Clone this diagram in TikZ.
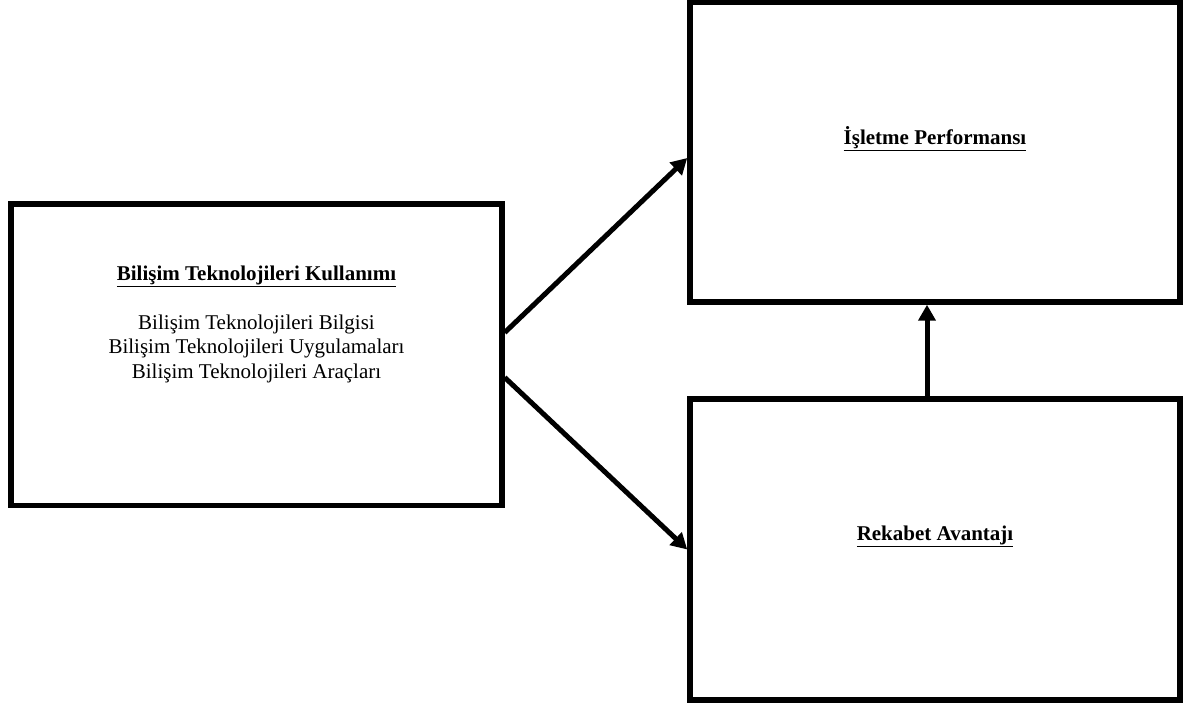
\documentclass[tikz,border=0pt]{standalone}
\usepackage{fontspec}
\setmainfont{Liberation Serif}
\usepackage{tikz}
\usetikzlibrary{positioning}
\usetikzlibrary{arrows.meta}
\tikzstyle{every kutu} = []
\tikzstyle{kutu} = [draw, line width=5.5pt, rectangle, minimum width=490pt, minimum height=300pt, every kutu]
\tikzstyle{baslik} = [font=\fontsize{21}{24}\selectfont\bfseries, inner sep=0pt]
\tikzstyle{link} = [-{Triangle[length=16pt, width=17pt]}, draw, line width=5pt]

\begin{document}
\begin{tikzpicture}[x=1pt,y=1pt]
                    \useasboundingbox (0,0) rectangle (1184,704);
                    \node[kutu, minimum width=491pt, minimum height=301.5pt] (bit) at (256.5,349) {};
                    \node[kutu] (perf) at (935,552) {};
                    \node[kutu, minimum height=301pt] (ra) at (935,154.5) {};
                    \node[inner sep=0pt, anchor=north, align=center, font=\fontsize{21}{24.5}\selectfont] (bitT) at (256.5,438)
                        {\textbf{\underline{Bilişim Teknolojileri Kullanımı}}\\[24pt]
                         Bilişim Teknolojileri Bilgisi\\
                         Bilişim Teknolojileri Uygulamaları\\
                         Bilişim Teknolojileri Araçları};
                    \node[baslik] (perfT) at ([yshift=13pt]perf.center) {\underline{İşletme Performansı}};
                    \node[baslik] (raT) at ([yshift=13pt]ra.center) {\underline{Rekabet Avantajı}};
                    \draw[link] ([yshift=22.5pt]bit.east) -- ([yshift=-6pt]perf.west);
                    \draw[link] ([yshift=-22.5pt]bit.east) -- (ra.west);
                    \draw[link] ([xshift=-8pt]ra.north) -- ([xshift=-8pt]perf.south);
                    
                \end{tikzpicture}
\end{document}
